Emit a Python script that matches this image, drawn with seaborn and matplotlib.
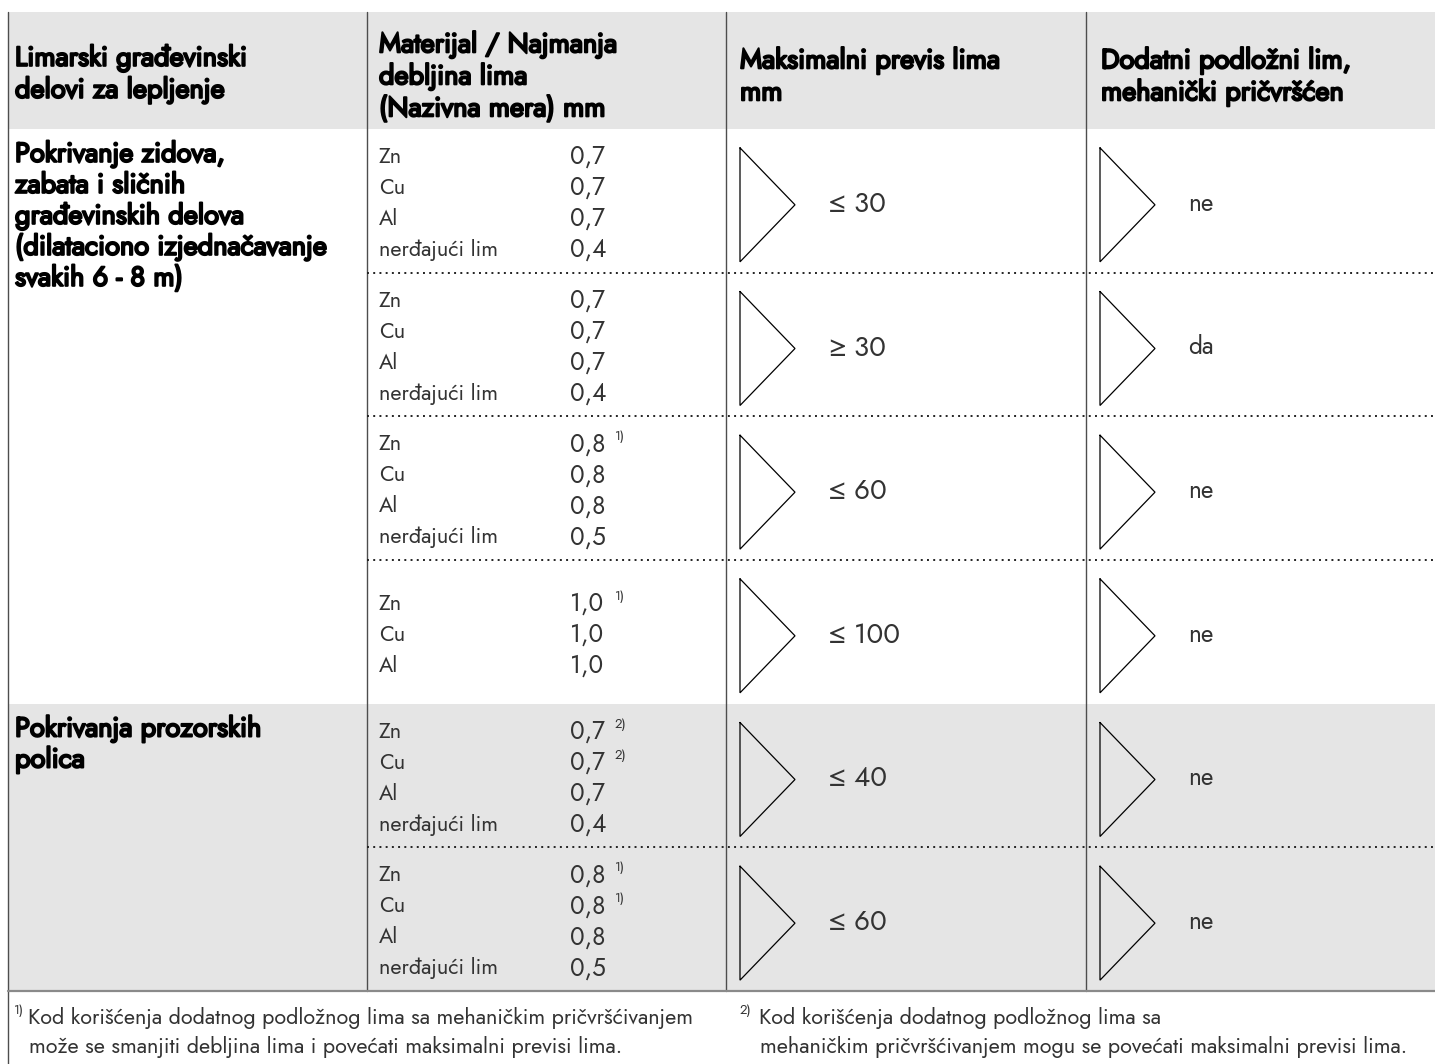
import matplotlib
matplotlib.use("Agg")
import matplotlib.pyplot as plt
import matplotlib.patheffects as pe
import seaborn as sns

# ---- table content ----
headers = [
    ["Limarski građevinski", "delovi za lepljenje"],
    ["Materijal / Najmanja", "debljina lima", "(Nazivna mera) mm"],
    ["Maksimalni previs lima", "mm"],
    ["Dodatni podložni lim,", "mehanički pričvršćen"],
]
groups = [
    ["Pokrivanje zidova,", "zabata i sličnih", "građevinskih delova",
     "(dilataciono izjednačavanje", "svakih 6 - 8 m)"],
    ["Pokrivanja prozorskih", "polica"],
]
group_rows = [4, 2]
materials = [
    ["Zn", "Cu", "Al", "nerđajući lim"],
    ["Zn", "Cu", "Al", "nerđajući lim"],
    ["Zn", "Cu", "Al", "nerđajući lim"],
    ["Zn", "Cu", "Al"],
    ["Zn", "Cu", "Al", "nerđajući lim"],
    ["Zn", "Cu", "Al", "nerđajući lim"],
]
thickness = [
    ["0,7", "0,7", "0,7", "0,4"],
    ["0,7", "0,7", "0,7", "0,4"],
    ["0,8", "0,8", "0,8", "0,5"],
    ["1,0", "1,0", "1,0"],
    ["0,7", "0,7", "0,7", "0,4"],
    ["0,8", "0,8", "0,8", "0,5"],
]
notes = [
    ["", "", "", ""],
    ["", "", "", ""],
    ["1)", "", "", ""],
    ["1)", "", ""],
    ["2)", "2)", "", ""],
    ["1)", "1)", "", ""],
]
overhang = ["≤ 30", "≥ 30", "≤ 60", "≤ 100", "≤ 40", "≤ 60"]
underlay = ["ne", "da", "ne", "ne", "ne", "ne"]
footnotes = [
    ("1)", ["Kod korišćenja dodatnog podložnog lima sa mehaničkim pričvršćivanjem",
            "može se smanjiti debljina lima i povećati maksimalni previsi lima."]),
    ("2)", ["Kod korišćenja dodatnog podložnog lima sa",
            "mehaničkim pričvršćivanjem mogu se povećati maksimalni previsi lima."]),
]

sns.set_theme(style="white")
plt.rcParams["font.family"] = ["Jost", "Lato", "DejaVu Sans"]

W, H = 1435, 1064
fig = plt.figure(figsize=(W / 100, H / 100), dpi=100)
ax = fig.add_axes([0, 0, 1, 1])
ax.set_xlim(0, W)
ax.set_ylim(H, 0)
ax.axis("off")

GRAY = "#e5e5e5"
LINE = "#4d4d4d"
TXT = "#333333"
left, top, head_bot, bot = 8, 12, 129, 991
cols = [left, 367, 726, 1086]
pad = [7, 12, 14, 15]
n_rows = len(overhang)
row_h = (bot - head_bot) / n_rows
bounds = [head_bot + i * row_h for i in range(n_rows + 1)]
first_gray = group_rows[0]

# backgrounds
ax.axhspan(top, head_bot, xmin=left / W, xmax=1, color=GRAY, lw=0)
ax.axhspan(bounds[first_gray], bot, xmin=left / W, xmax=1, color=GRAY, lw=0)

# grid lines
ax.plot([left, left], [top, H], color=LINE, lw=1.0)
for c in cols[1:]:
    ax.plot([c, c], [top, bot], color=LINE, lw=1.0)
ax.plot([left, W], [bot, bot], color="#8a8a8a", lw=1.6)
for i in range(1, n_rows):
    if i == first_gray:
        continue
    ax.plot([cols[1], W], [bounds[i], bounds[i]], color="#222222", lw=1.4,
            linestyle=(0, (1, 2.2)))

fs_head, fs_mat, fs_val, fs_big, fs_yn, fs_foot, fs_sup = 19.6, 15.5, 17.5, 20, 17.5, 15.5, 9.5
bold = [pe.withStroke(linewidth=1.5, foreground="black")]


def base(fs):
    # centre of capitals -> baseline, in px
    return 0.36 * fs * 100 / 72


def txt(x, yc, s, fs, **kw):
    ax.text(x, yc + base(fs), s, va="baseline", ha="left", fontsize=fs, **kw)


# header
for j, h in enumerate(headers):
    hc = 72 if j == 0 else 74.5
    y0 = hc - 32 * (len(h) - 1) / 2
    for k, t in enumerate(h):
        txt(cols[j] + pad[j], y0 + 32 * k, t, fs_head, color="black", path_effects=bold)

# group labels (top aligned)
r = 0
for g, n in zip(groups, group_rows):
    y0 = bounds[r] + 23
    for k, t in enumerate(g):
        txt(cols[0] + pad[0], y0 + k * 31, t, fs_head, color="black", path_effects=bold)
    r += n

# body rows
for i in range(n_rows):
    yc = (bounds[i] + bounds[i + 1]) / 2
    m = materials[i]
    y0 = yc + 1 - 31 * (len(m) - 1) / 2
    for k in range(len(m)):
        yk = y0 + k * 31
        txt(cols[1] + pad[1], yk, m[k], fs_mat, color=TXT)
        txt(570, yk, thickness[i][k], fs_val, color=TXT)
        if notes[i][k]:
            txt(615, yk - 7, notes[i][k], fs_sup, color=TXT)
    # triangles
    tc = yc + 4
    for c in cols[2:]:
        ax.plot([c + 14, c + 14, c + 69, c + 14], [tc - 57, tc + 57, tc, tc - 57],
                color="black", lw=0.9, solid_joinstyle="miter")
    txt(cols[2] + 103, yc + 1, overhang[i], fs_big, color=TXT)
    txt(cols[3] + 102, yc + 1, underlay[i], fs_yn, color=TXT)

# footnotes
for (mark, lines), (xm, xt) in zip(footnotes, [(14, 28), (740, 759)]):
    txt(xm, 1016 - 7, mark, fs_sup, color=TXT)
    txt(xt, 1016, lines[0], fs_foot, color=TXT)
    txt(xt + 1, 1045, lines[1], fs_foot, color=TXT)

fig.savefig("out.png", dpi=100)
